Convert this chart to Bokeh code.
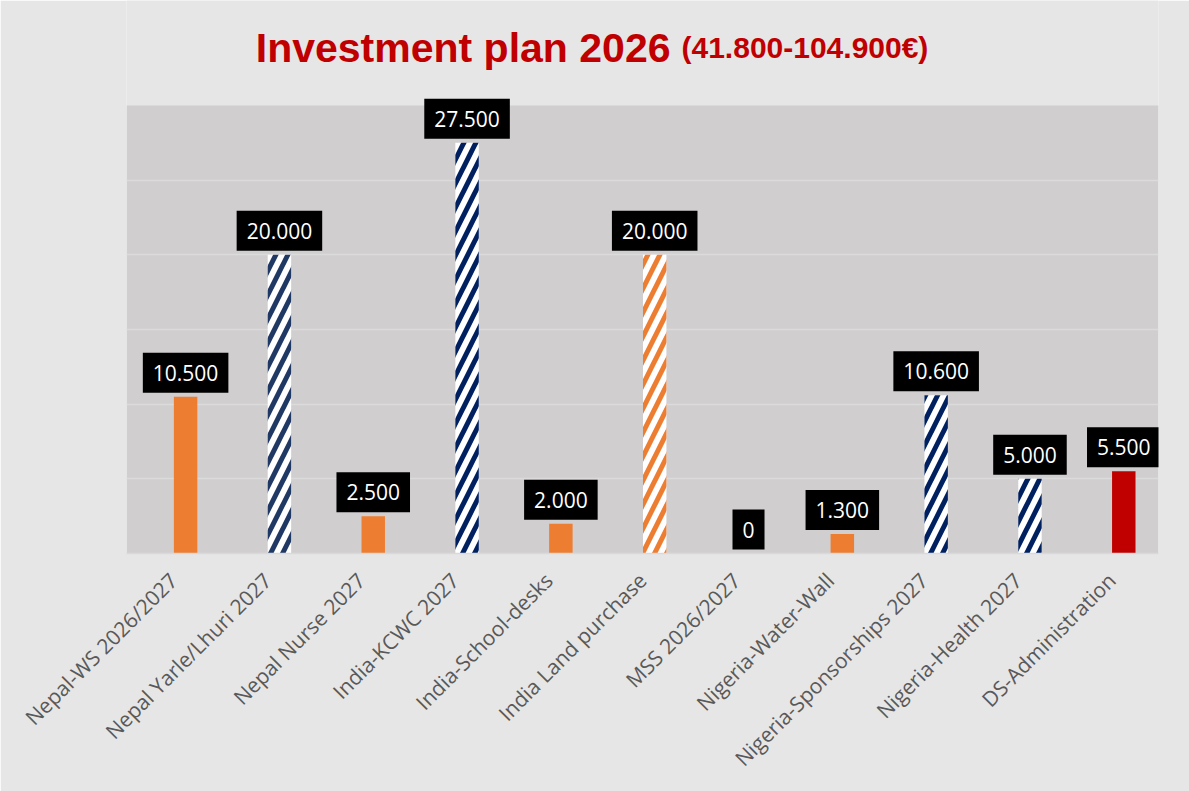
import math
from bokeh.plotting import figure
from bokeh.models import FactorRange, Range1d, FixedTicker, ColumnDataSource, Label
from bokeh.embed import file_html
from bokeh.resources import INLINE

# ---- data ----
categories = [
    "Nepal-WS 2026/2027", "Nepal Yarle/Lhuri 2027", "Nepal Nurse 2027",
    "India-KCWC 2027", "India-School-desks", "India Land purchase",
    "MSS 2026/2027", "Nigeria-Water-Wall", "Nigeria-Sponsorships 2027",
    "Nigeria-Health 2027", "DS-Administration",
]
amounts = [10500, 20000, 2500, 27500, 2000, 20000, 0, 1300, 10600, 5000, 5500]
y_ticks = [0, 5000, 10000, 15000, 20000, 25000, 30000]
title_main = "Investment plan 2026"
title_range = "(41.800-104.900€)"

# ---- styles ----
ORANGE = "#ED7D31"
NAVY = "#002060"
NAVY2 = "#1F3864"
RED = "#C00000"
OUTER_BG = "#E7E6E6"
PLOT_BG = "#D0CECE"
bar_kind = ["solid", "hatch", "solid", "hatch", "solid", "hatch",
            "solid", "solid", "hatch", "hatch", "solid"]
bar_color = [ORANGE, NAVY2, ORANGE, NAVY, ORANGE, ORANGE,
             ORANGE, ORANGE, NAVY, NAVY, RED]

# ---- layout (pixels) ----
W, H = 1189, 791
PLOT_LEFT, PLOT_RIGHT = 126, 1158     # plot area x extent
PLOT_TOP, PLOT_BOTTOM = 105, 553      # plot area y extent
frame_w = PLOT_RIGHT - PLOT_LEFT
plot_h = PLOT_BOTTOM - PLOT_TOP
ymax = y_ticks[-1]
px = ymax / plot_h                    # data units per pixel
cat_px = frame_w / len(categories)    # pixels per category
BAR_SHIFT = 0.13
BAR_W = 0.25

# the frame reaches the top of the figure so the title can live inside it
p = figure(
    width=W, height=H,
    x_range=FactorRange(factors=categories, range_padding=0),
    y_range=Range1d(0, PLOT_BOTTOM * px),
    output_backend="svg", toolbar_location=None,
    min_border_left=PLOT_LEFT, min_border_right=W - PLOT_RIGHT,
    min_border_top=0, min_border_bottom=H - PLOT_BOTTOM,
    background_fill_color=OUTER_BG, border_fill_color=OUTER_BG,
    outline_line_color=None,
)

# plot-area background (0 .. ymax), drawn beneath the grid
p.quad(left=[0], right=[len(categories)], bottom=[0], top=[ymax],
       fill_color=PLOT_BG, line_color=None, level="image")

xs = [i + 0.5 + BAR_SHIFT for i in range(len(categories))]

solid = ColumnDataSource(dict(
    x=[x for x, k in zip(xs, bar_kind) if k == "solid"],
    top=[a for a, k in zip(amounts, bar_kind) if k == "solid"],
    color=[c for c, k in zip(bar_color, bar_kind) if k == "solid"],
))
hatch = ColumnDataSource(dict(
    x=[x for x, k in zip(xs, bar_kind) if k == "hatch"],
    top=[a for a, k in zip(amounts, bar_kind) if k == "hatch"],
    color=[c for c, k in zip(bar_color, bar_kind) if k == "hatch"],
))

p.vbar(x="x", top="top", width=BAR_W, source=solid,
       fill_color="color", line_color=None)
p.vbar(x="x", top="top", width=BAR_W, source=hatch,
       fill_color="white", line_color=None,
       hatch_pattern="/", hatch_color="color", hatch_scale=24, hatch_weight=5)

# data labels in black boxes
for x, a in zip(xs, amounts):
    txt = f"{a:,}".replace(",", ".")
    p.add_layout(Label(
        x=x, y=a, text=txt, y_offset=4,
        text_align="center", text_baseline="bottom",
        text_color="white", text_font="Open Sans", text_font_size="21px",
        background_fill_color="black", padding=(10, 12),
    ))

# title (two sizes on one line)
title_y = (PLOT_BOTTOM - 47) * px
p.add_layout(Label(
    x=(670 - PLOT_LEFT) / cat_px, y=title_y, text=title_main,
    text_align="right", text_baseline="alphabetic",
    text_color=RED, text_font="Liberation Sans", text_font_style="bold",
    text_font_size="41px",
))
p.add_layout(Label(
    x=(681 - PLOT_LEFT) / cat_px, y=title_y, text=title_range,
    text_align="left", text_baseline="alphabetic",
    text_color=RED, text_font="Liberation Sans", text_font_style="bold",
    text_font_size="30px",
))

# axes & grid
p.yaxis.visible = False
p.xgrid.visible = False
p.ygrid.ticker = FixedTicker(ticks=y_ticks[1:-1])
p.ygrid.grid_line_color = "#DCDBDB"
p.ygrid.grid_line_width = 1.5

ax = p.xaxis[0]
ax.major_label_orientation = math.pi / 4
ax.major_label_text_font = "Open Sans"
ax.major_label_text_font_size = "21px"
ax.major_label_text_color = "#595959"
ax.major_label_standoff = 17
ax.major_tick_line_color = None
ax.minor_tick_line_color = None
ax.axis_line_color = "#D9D9D9"
ax.axis_line_width = 1.5

open("out.html", "w").write(file_html(p, INLINE))
